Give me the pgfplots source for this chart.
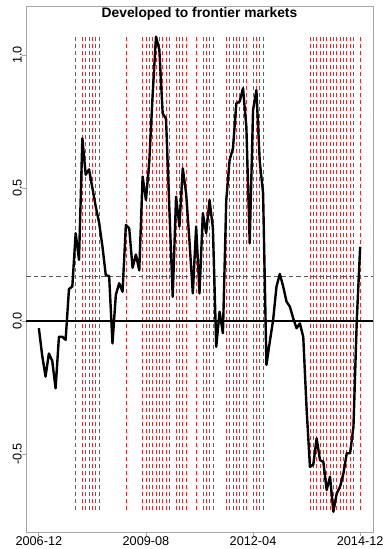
\documentclass[border=0pt]{standalone}
\usepackage{pgfplots}
\pgfplotsset{compat=1.18}
\usepackage{pgfplotstable}
\usepackage{fontspec}
\setmainfont{Liberation Sans}
\definecolor{boxgray}{RGB}{165,165,165}
\definecolor{dashgray}{RGB}{90,90,90}
\definecolor{sigred}{RGB}{235,40,40}
\pgfplotstableread{
u v
0 -0.027
1 -0.130
2 -0.209
3 -0.122
4 -0.150
5 -0.253
6 -0.059
7 -0.059
8 -0.071
9 0.120
10 0.130
11 0.330
12 0.230
13 0.687
14 0.550
15 0.570
16 0.500
17 0.430
18 0.370
19 0.280
20 0.172
21 0.169
22 -0.084
23 0.098
24 0.142
25 0.110
26 0.361
27 0.348
28 0.200
29 0.250
30 0.190
31 0.543
32 0.455
33 0.600
34 0.850
35 1.069
36 1.020
37 0.780
38 0.760
39 0.420
40 0.091
41 0.467
42 0.355
43 0.574
44 0.480
45 0.300
46 0.104
47 0.355
48 0.104
49 0.405
50 0.330
51 0.455
52 0.350
53 -0.097
54 0.035
55 -0.046
56 0.455
57 0.605
58 0.649
59 0.818
60 0.825
61 0.875
62 0.730
63 0.292
64 0.793
65 0.868
66 0.600
67 0.480
68 -0.165
69 -0.078
70 0.004
71 0.129
72 0.177
73 0.130
74 0.073
75 0.054
76 0.010
77 -0.027
78 -0.009
79 -0.060
80 -0.330
81 -0.548
82 -0.540
83 -0.441
84 -0.523
85 -0.529
86 -0.635
87 -0.585
88 -0.717
89 -0.648
90 -0.623
91 -0.573
92 -0.497
93 -0.497
94 -0.397
95 0.004
96 0.279
}\datatable
\begin{document}
\begin{tikzpicture}
\begin{axis}[
  at={(26bp,17bp)}, anchor=south west,
  scale only axis, width=347bp, height=526bp,
  xmin=-3.84, xmax=99.84, ymin=-0.793, ymax=1.184,
  axis line style={boxgray, line width=0.8bp},
  xtick={0,32,64,96}, xticklabels={2006-12,2009-08,2012-04,2014-12},
  ytick={-0.5,0,0.5,1}, yticklabels={-0.5,0.0,0.5,1.0},
  tick style={boxgray, line width=0.8bp},
  tick align=outside, major tick length=4bp,
  xtick pos=bottom, ytick pos=left,
  tick label style={font=\fontsize{12.7bp}{14bp}\selectfont, text=black},
  xticklabel style={anchor=north, inner sep=0pt},
  yticklabel style={rotate=90, anchor=south, inner sep=0pt},
  clip=false,
]
\pgfplotsinvokeforeach{11,13,14,15,16,17,18,26,31,32,33,34,35,36,37,38,39,41,42,43,44,47,49,50,51,52,56,57,58,59,60,61,62,64,65,66,67,81,82,83,84,85,86,87,88,89,90,91,92,93,94,96}{
  \addplot[sigred, line width=0.65bp, dash pattern=on 4bp off 3bp, forget plot] coordinates {(#1,1.069) (#1,-0.717)};
}
\addplot[black, line width=1.8bp, forget plot] coordinates {(-3.84,0) (99.84,0)};
\addplot[dashgray, line width=1.1bp, dash pattern=on 4.5bp off 3bp, forget plot] coordinates {(-3.84,0.167) (99.84,0.167)};
\addplot[black, line width=2.4bp, line join=round] table[x=u, y=v] {\datatable};
\node[anchor=base, yshift=-11.5bp, font=\bfseries\fontsize{13.8bp}{16bp}\selectfont] at (rel axis cs:0.5,1) {Developed to frontier markets};
\end{axis}
\pgfresetboundingbox
\path[use as bounding box] (0,0) rectangle (389bp,549bp);
\end{tikzpicture}
\end{document}
